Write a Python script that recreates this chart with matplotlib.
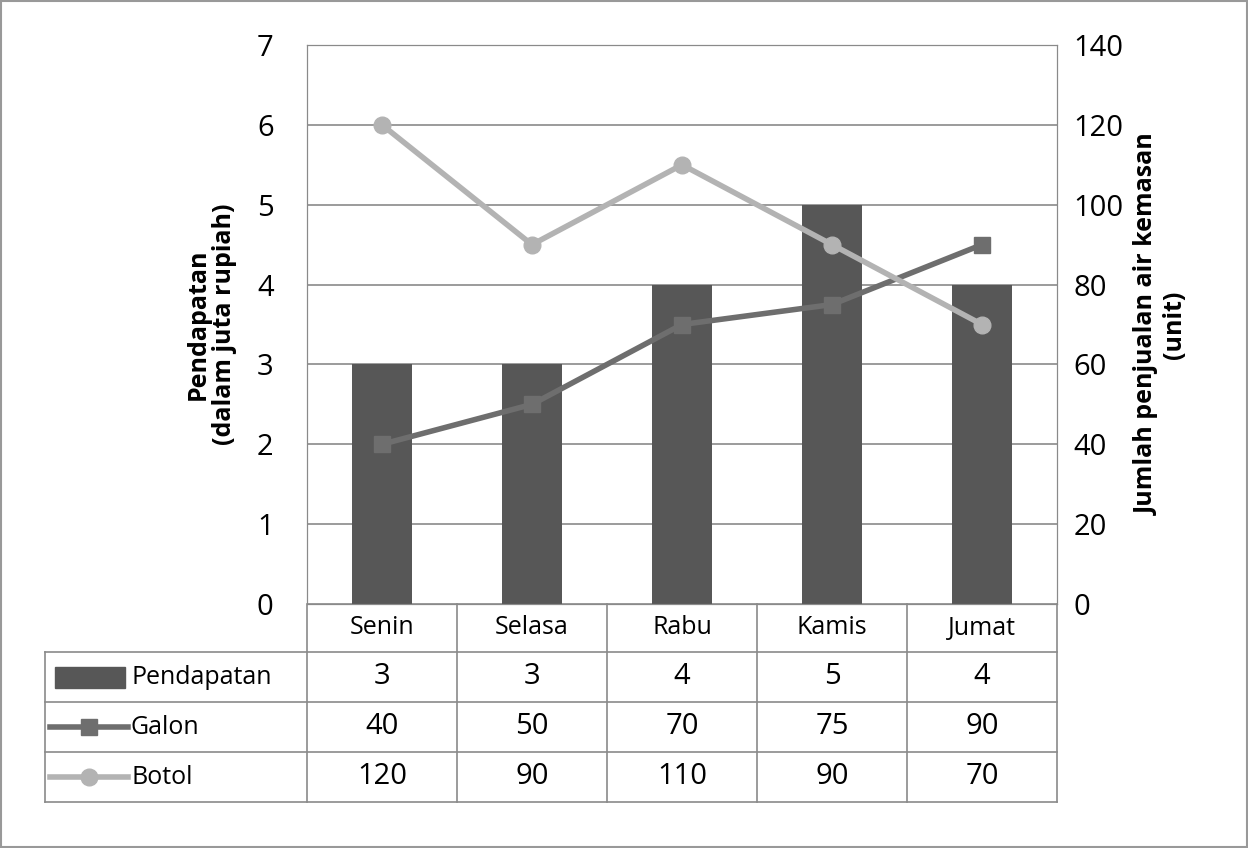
import matplotlib.pyplot as plt
from matplotlib.lines import Line2D
from matplotlib.patches import Rectangle

days = ["Senin", "Selasa", "Rabu", "Kamis", "Jumat"]
pendapatan = [3, 3, 4, 5, 4]
galon = [40, 50, 70, 75, 90]
botol = [120, 90, 110, 90, 70]

plt.rcParams['font.family'] = ['Open Sans', 'DejaVu Sans']
W, H = 1248, 848
fig = plt.figure(figsize=(W / 100, H / 100), dpi=100)

c_bar, c_gal, c_bot, c_grid = "#575757", "#6e6e6e", "#b3b3b3", "#8a8a8a"
x = list(range(len(days)))

ax = fig.add_axes([307 / W, 1 - 604 / H, 750 / W, 559 / H])
ax.bar(x, pendapatan, width=0.4, color=c_bar, zorder=2)
ax.set_xlim(-0.5, 4.5)
ax.set_ylim(0, 7)
ax.set_xticks([])
ax.set_yticks(range(8))
ax.grid(axis='y', color=c_grid, lw=1.2, zorder=0)
ax.tick_params(axis='y', length=0, labelsize=21, pad=24)
for s in ax.spines.values():
    s.set_color(c_grid)
ax.set_ylabel("Pendapatan\n(dalam juta rupiah)", fontsize=18, fontweight='bold',
              labelpad=14, linespacing=1.1)

ax2 = ax.twinx()
ax2.plot(x, galon, color=c_gal, lw=4, marker='s', ms=11, zorder=3)
ax2.plot(x, botol, color=c_bot, lw=4, marker='o', ms=12, zorder=4)
ax2.set_ylim(0, 140)
ax2.set_yticks(range(0, 141, 20))
ax2.tick_params(axis='y', length=0, labelsize=21, pad=12)
for s in ax2.spines.values():
    s.set_color(c_grid)
ax2.set_ylabel("Jumlah penjualan air kemasan\n(unit)", fontsize=18, fontweight='bold',
               labelpad=8, linespacing=1.1)

# data table
t = fig.add_axes([0, 0, 1, 1])
t.set_xlim(0, W)
t.set_ylim(H, 0)
t.axis('off')
t.add_patch(Rectangle((1, 1), W - 2, H - 2, fill=False, ec="#999999", lw=1.5))
cols = [307, 457, 607, 757, 907, 1057]
for cx in cols:
    t.add_line(Line2D([cx, cx], [604, 802], color=c_grid, lw=1.2))
t.add_line(Line2D([45, 45], [652, 802], color=c_grid, lw=1.2))
for ry in [652, 702, 752, 802]:
    t.add_line(Line2D([45, 1057], [ry, ry], color=c_grid, lw=1.2))
for i, d in enumerate(days):
    cx = (cols[i] + cols[i + 1]) / 2
    t.text(cx, 628, d, ha='center', va='center', fontsize=18)
    t.text(cx, 677, str(pendapatan[i]), ha='center', va='center', fontsize=21)
    t.text(cx, 727, str(galon[i]), ha='center', va='center', fontsize=21)
    t.text(cx, 777, str(botol[i]), ha='center', va='center', fontsize=21)
t.add_patch(Rectangle((55, 667), 70, 21, color=c_bar))
t.add_line(Line2D([50, 128], [727, 727], color=c_gal, lw=4))
t.plot([89], [727], marker='s', ms=11, color=c_gal)
t.add_line(Line2D([50, 128], [777, 777], color=c_bot, lw=4))
t.plot([89], [777], marker='o', ms=12, color=c_bot)
t.text(131, 677, "Pendapatan", va='center', fontsize=18)
t.text(131, 727, "Galon", va='center', fontsize=18)
t.text(131, 777, "Botol", va='center', fontsize=18)

fig.savefig("out.png", dpi=100)
